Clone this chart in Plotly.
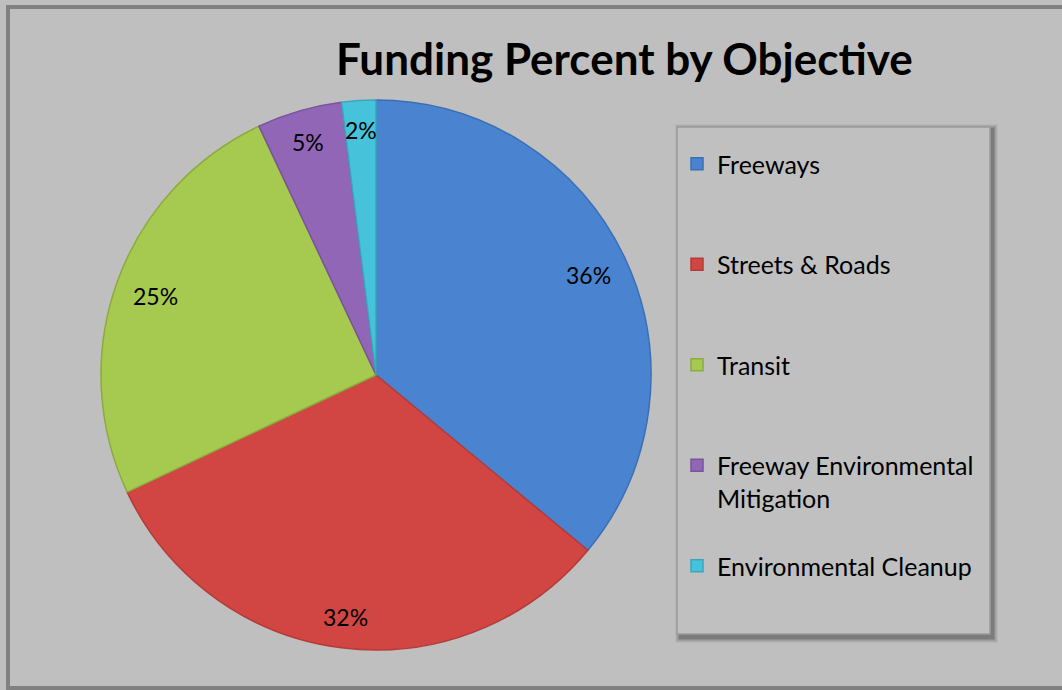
import math
import plotly.graph_objects as go

# ---- data ----
categories = ["Freeways", "Streets & Roads", "Transit",
              "Freeway Environmental Mitigation", "Environmental Cleanup"]
legend_labels = ["Freeways", "Streets & Roads", "Transit",
                 "Freeway Environmental<br>Mitigation", "Environmental Cleanup"]
values = [36, 32, 25, 5, 2]
colors = ["#4a84d0", "#d14643", "#a6c94f", "#9266b6", "#46c3da"]
edge_colors = ["#3a6fb5", "#b53a38", "#8bab3f", "#7a539c", "#38a7bd"]
title_text = "Funding Percent by Objective"

W, H = 1062, 690
cx, cy, R = 376, 375, 275  # pie geometry in pixels

dom_x = [(cx - R) / W, (cx + R) / W]
dom_y = [1 - (cy + R) / H, 1 - (cy - R) / H]

# pad legend labels with blank lines for spacing
padded = []
for lab in legend_labels:
    n = lab.count("<br>") + 1
    padded.append(lab + "<br> " * (3 - n))

fig = go.Figure()
fig.add_trace(go.Pie(
    labels=padded,
    values=values,
    sort=False,
    direction="clockwise",
    rotation=0,
    marker=dict(colors=colors, line=dict(color=edge_colors, width=1.5)),
    textinfo="none",
    hoverinfo="label+percent",
    domain=dict(x=dom_x, y=dom_y),
    showlegend=True,
))

annotations = []
total = sum(values)
cum = 0
lab_size = 23
for v in values:
    mid = (cum + v / 2) / total * 2 * math.pi
    cum += v
    txt = f"{round(v / total * 100)}%"
    hw = len(txt) * 0.3 * 22   # approx half text width
    hh = 0.5 * 22              # approx half text height
    inset = hw * abs(math.sin(mid)) + hh * abs(math.cos(mid)) + 18
    r = R - inset
    px = cx + r * math.sin(mid)
    py = cy - r * math.cos(mid)
    annotations.append(dict(
        x=px / W, y=1 - py / H, xref="paper", yref="paper",
        text=txt, showarrow=False,
        font=dict(family="Lato", size=lab_size, color="#000000"),
        xanchor="center", yanchor="middle"))

annotations.append(dict(
    x=624 / W, y=1 - 58 / H, xref="paper", yref="paper",
    text=f"<b>{title_text}</b>", showarrow=False,
    font=dict(family="Lato", size=44, color="#000000"),
    xanchor="center", yanchor="middle"))

shapes = []
# legend box shadow
for i, a in enumerate([0.04, 0.06, 0.08, 0.10, 0.12]):
    o = 5 - i
    shapes.append(dict(type="rect", xref="paper", yref="paper",
                       x0=(677 + 3 - o) / W, x1=(990 + 3 + o) / W,
                       y0=1 - (634 + 4 + o) / H, y1=1 - (127 + 2 - o) / H,
                       line=dict(width=0), fillcolor=f"rgba(0,0,0,{a})",
                       layer="below"))
shapes.append(dict(type="rect", xref="paper", yref="paper",
                   x0=677 / W, x1=990 / W, y0=1 - 634 / H, y1=1 - 127 / H,
                   line=dict(color="#9a9a9a", width=1.5), fillcolor="#c0c0c0",
                   layer="below"))
# outer border
shapes.append(dict(type="rect", xref="paper", yref="paper",
                   x0=8 / W, x1=1080 / W, y0=1 - 688 / H, y1=1 - 7 / H,
                   line=dict(color="#808080", width=4), fillcolor="rgba(0,0,0,0)",
                   layer="above"))

fig.update_layout(
    width=W, height=H,
    margin=dict(l=0, r=0, t=0, b=0),
    paper_bgcolor="#bfbfbf",
    plot_bgcolor="#bfbfbf",
    showlegend=True,
    legend=dict(
        x=677 / W, y=1 - 141 / H, xanchor="left", yanchor="top",
        bgcolor="rgba(0,0,0,0)", borderwidth=0,
        font=dict(family="Lato", size=25, color="#000000"),
        valign="top", traceorder="normal", itemwidth=30,
    ),
    annotations=annotations,
    shapes=shapes,
)

fig.write_html("out.html")
